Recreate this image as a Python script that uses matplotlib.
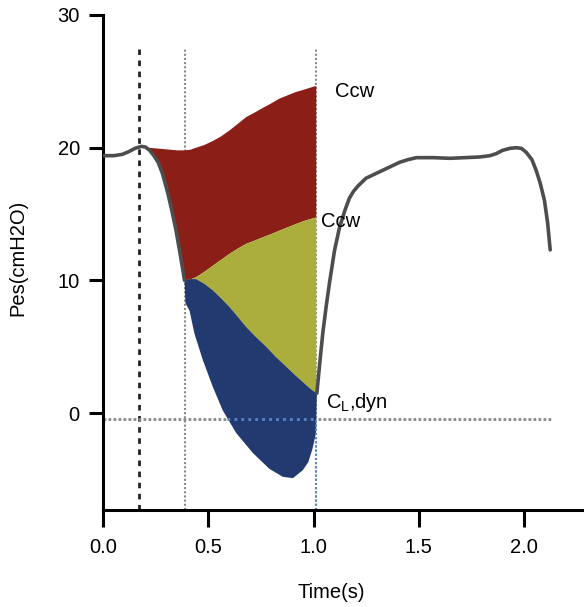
import numpy as np
import matplotlib.pyplot as plt

plt.rcParams['font.family'] = ['Liberation Sans', 'DejaVu Sans']
plt.rcParams['mathtext.default'] = 'regular'

# oesophageal pressure trace (time s, cmH2O)
pes_t = [0.0, 0.05, 0.09, 0.12, 0.15, 0.18, 0.20, 0.22, 0.24, 0.26, 0.28, 0.306, 0.325,
         0.345, 0.365, 0.386,
         0.39, 0.41, 0.433, 0.473, 0.52, 0.568, 0.632, 0.711, 0.79, 0.854, 0.902, 0.949,
         0.975, 0.995, 1.012, 1.016,
         1.03, 1.044, 1.06, 1.076, 1.10, 1.124, 1.15, 1.171, 1.19, 1.211, 1.25, 1.29,
         1.33, 1.37, 1.41, 1.45, 1.49, 1.57, 1.65, 1.72, 1.79, 1.84, 1.87, 1.90,
         1.935, 1.965, 1.99, 2.013, 2.04, 2.06, 2.08, 2.10, 2.115, 2.127]
pes_p = [19.4, 19.4, 19.5, 19.7, 19.95, 20.1, 20.05, 19.8, 19.4, 18.9, 18.1, 16.6, 15.3,
         13.8, 12.0, 10.0,
         8.3, 7.7, 6.0, 4.0, 2.0, 0.2, -1.5, -3.0, -4.2, -4.8, -4.9, -4.3,
         -3.7, -2.7, -1.5, 1.5,
         3.8, 6.0, 8.0, 9.8, 12.25, 14.0, 15.3, 16.2, 16.7, 17.1, 17.7, 18.0,
         18.3, 18.6, 18.9, 19.1, 19.25, 19.25, 19.2, 19.25, 19.3, 19.4, 19.55, 19.8,
         19.95, 20.0, 19.95, 19.65, 19.1, 18.3, 17.3, 16.0, 14.3, 12.3]

# upper edges of the shaded areas
red_top_t = [0.211, 0.283, 0.35, 0.386, 0.415, 0.441, 0.48, 0.52, 0.56, 0.60, 0.64, 0.679,
             0.72, 0.759, 0.80, 0.838, 0.877, 0.917, 0.95, 0.98, 1.0, 1.013]
red_top_p = [20.0, 19.9, 19.8, 19.8, 19.85, 20.0, 20.2, 20.5, 20.85, 21.3, 21.8, 22.3,
             22.65, 23.0, 23.35, 23.7, 23.95, 24.2, 24.35, 24.5, 24.6, 24.65]
yel_top_t = [0.386, 0.41, 0.435, 0.457, 0.49, 0.52, 0.56, 0.60, 0.64, 0.679, 0.72, 0.759,
             0.80, 0.838, 0.877, 0.917, 0.95, 0.98, 1.013]
yel_top_p = [10.0, 10.05, 10.2, 10.4, 10.75, 11.1, 11.55, 12.0, 12.4, 12.75, 13.0, 13.25,
             13.5, 13.75, 14.0, 14.25, 14.45, 14.6, 14.75]
blu_top_t = [0.386, 0.415, 0.441, 0.48, 0.521, 0.56, 0.60, 0.64, 0.679, 0.725, 0.775,
             0.82, 0.87, 0.91, 0.949, 0.98, 1.013]
blu_top_p = [10.0, 10.1, 10.1, 9.75, 9.25, 8.65, 8.0, 7.25, 6.5, 5.75, 5.0,
             4.25, 3.5, 2.9, 2.35, 1.9, 1.5]

marker_t = [0.171, 0.386, 1.013]
baseline_p = -0.45
labels = ['Ccw', 'Ccw', r'C$_{L}$,dyn']
label_t = [1.10, 1.037, 1.06]
label_p = [23.8, 14.0, 0.4]

t = np.array(pes_t)
p = np.array(pes_p)

fig = plt.figure(figsize=(5.84, 6.07), dpi=100)
ax = fig.add_axes([0.1772, 0.1598, 0.8228, 0.8155])

# reference lines
ax.vlines(marker_t[0], -7.3, 27.4, colors='#222222', lw=2, linestyles=(0, (2, 2)), zorder=1)
ax.vlines(marker_t[1:], -7.3, 27.4, colors='#8a8a8a', lw=1.5, linestyles=(0, (1, 1)), zorder=1)
ax.hlines(baseline_p, 0, 2.13, colors='#8a8a8a', lw=2, linestyles=(0, (1, 0.8)), zorder=1)

# shaded work areas
desc = (t >= 0.211) & (t <= 0.386)
insp = (t >= 0.386) & (t <= 1.016)
ax.fill(red_top_t + yel_top_t[::-1] + list(t[desc][::-1]),
        red_top_p + yel_top_p[::-1] + list(p[desc][::-1]),
        color='#8b1f17', lw=0, zorder=2)
ax.fill(yel_top_t + blu_top_t[::-1], yel_top_p + blu_top_p[::-1],
        color='#abae3c', lw=0, zorder=2)
ax.fill(blu_top_t + list(t[insp][::-1]), blu_top_p + list(p[insp][::-1]),
        color='#223a70', lw=0, zorder=2)
ax.hlines(baseline_p, 0.59, marker_t[2], colors='#5b86c8', lw=2, linestyles=(0, (1, 1.5)), zorder=2.5)
ax.vlines(marker_t[2], -7.3, baseline_p, colors='#5b86c8', lw=1.5, linestyles=(0, (1, 1)), zorder=2.5)

# pressure trace
kw = dict(color='#4d4d4d', lw=2.6, zorder=3, solid_capstyle='round', solid_joinstyle='round')
ax.plot(t[t <= 0.386], p[t <= 0.386], **kw)
ax.plot(t[t >= 1.016], p[t >= 1.016], **kw)

for s, x, y in zip(labels, label_t, label_p):
    ax.text(x, y, s, fontsize=14.5, ha='left', va='baseline', zorder=4)

ax.set_xlim(0, 2.288)
ax.set_ylim(-7.3, 30)
ax.set_xticks([0, 0.5, 1.0, 1.5, 2.0])
ax.set_xticklabels(['0.0', '0.5', '1.0', '1.5', '2.0'])
ax.set_yticks([0, 10, 20, 30])
for side in ['top', 'right']:
    ax.spines[side].set_visible(False)
for side in ['left', 'bottom']:
    ax.spines[side].set_linewidth(2.2)
ax.tick_params(axis='both', width=2.2, labelsize=14.5)
ax.tick_params(axis='x', length=12, pad=8)
ax.tick_params(axis='y', length=10, pad=7)

fig.text(0.0308, 0.575, 'Pes(cmH2O)', rotation=90, fontsize=14.5, ha='center', va='center')
fig.text(0.5676, 0.0247, 'Time(s)', fontsize=14.5, ha='center', va='center')

fig.savefig('out.png', dpi=100)
